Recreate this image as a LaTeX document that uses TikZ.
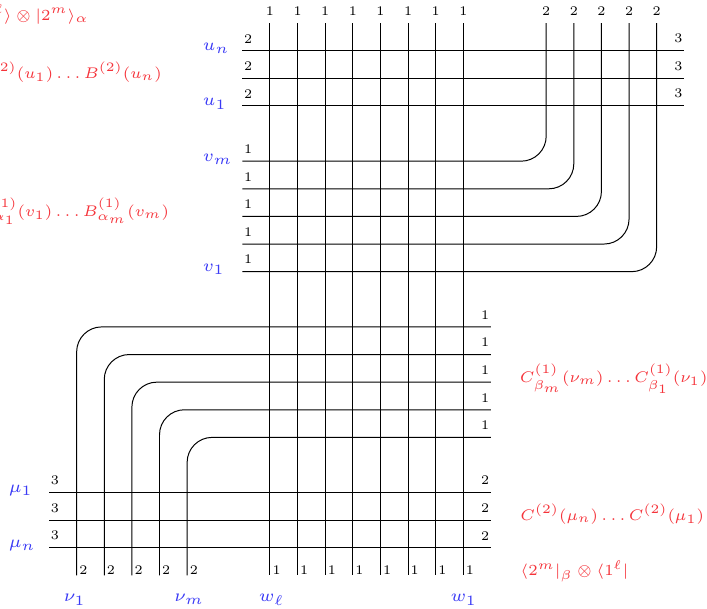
\documentclass[tikz,border=0pt]{standalone}
\usepackage{tikz}
\usepackage{xcolor}
\definecolor{opred}{HTML}{F5333A}
\definecolor{specblue}{HTML}{3A3AF5}

\begin{document}
\begin{tikzpicture}[x=0.4417cm,y=0.4417cm,
  wire/.style={line width=0.45pt,rounded corners=0.4cm},
  num/.style={font=\fontsize{6}{7}\selectfont,inner xsep=0.6pt,inner ysep=3.3pt},
  tail/.style={font=\fontsize{6}{7}\selectfont,inner xsep=1pt,inner ysep=0.3pt,anchor=south west},
  small math/.style={font=\fontsize{6}{7}\selectfont,inner sep=0pt,transform shape},
  spec/.style={small math,scale=1.3,text=specblue,anchor=base west},
  op/.style={small math,scale=1.17,text=opred}]
\useasboundingbox (-9.775,1.836) rectangle (15.822,-20.213);
\clip (-9.775,1.836) rectangle (15.822,-20.213);

% vertical lines w_1 ... w_l
\foreach \k in {0,...,7}{
  \coordinate (wt\k) at (\k,1);
  \coordinate (wb\k) at (\k,-19);
  \draw[wire] (wt\k) -- (wb\k);
  \node[num,above] (wtop\k) at (wt\k) {1};
  \node[tail] (wbot\k) at (wb\k) {1};}

% horizontal lines u_n ... u_1
\foreach \r in {0,1,2}{
  \coordinate (ul\r) at (-1,-\r);
  \coordinate (ur\r) at (15,-\r);
  \draw[wire] (ul\r) -- (ur\r);
  \node[num,anchor=south west] (uin\r) at (ul\r) {2};
  \node[num,anchor=south east] (uout\r) at (ur\r) {3};}

% v lines bending up into the top 2-lines
\foreach \j in {0,...,4}{
  \pgfmathtruncatemacro\r{4+\j}
  \pgfmathtruncatemacro\c{10+\j}
  \coordinate (vl\j) at (-1,-\r);
  \coordinate (vc\j) at (\c,-\r);
  \coordinate (vt\j) at (\c,1);
  \draw[wire] (vl\j) -- (vc\j) -- (vt\j);
  \node[num,anchor=south west] (vin\j) at (vl\j) {1};
  \node[num,above] (vtop\j) at (vt\j) {2};}

% beta lines bending down into the bottom 2-lines
\foreach \j in {0,...,4}{
  \pgfmathtruncatemacro\r{10+\j}
  \pgfmathtruncatemacro\c{-7+\j}
  \coordinate (br\j) at (8,-\r);
  \coordinate (bc\j) at (\c,-\r);
  \coordinate (bb\j) at (\c,-19);
  \draw[wire] (br\j) -- (bc\j) -- (bb\j);
  \node[num,anchor=south east] (bout\j) at (br\j) {1};
  \node[tail] (bbot\j) at (bb\j) {2};}

% horizontal lines mu_1 ... mu_n
\foreach \r in {16,17,18}{
  \coordinate (ml\r) at (-8,-\r);
  \coordinate (mr\r) at (8,-\r);
  \draw[wire] (ml\r) -- (mr\r);
  \node[num,anchor=south west] (min\r) at (ml\r) {3};
  \node[num,anchor=south east] (mout\r) at (mr\r) {2};}

% spectral parameters
\node[spec] (un) at (-2.45,0) {$u_n$};
\node[spec] (u1) at (-2.45,-2) {$u_1$};
\node[spec] (vm) at (-2.45,-4) {$v_m$};
\node[spec] (v1) at (-2.45,-8) {$v_1$};
\node[spec] (mu1) at (-9.475,-16) {$\mu_1$};
\node[spec] (mun) at (-9.475,-18) {$\mu_n$};
\node[spec] (nu1) at (-7.48,-19.95) {$\nu_1$};
\node[spec] (num) at (-3.48,-19.95) {$\nu_m$};
\node[spec] (wl) at (-0.42,-19.95) {$w_\ell$};
\node[spec] (w1) at (6.52,-19.95) {$w_1$};

% operators and states
\node[op,anchor=base east] (psiin) at (-6.55,1.11) {$|1^\ell\rangle\otimes|2^m\rangle_\alpha$};
\node[op,anchor=base east] (btwo) at (-3.9,-1) {$B^{(2)}(u_1)\ldots B^{(2)}(u_n)$};
\node[op,anchor=base east] (bone) at (-3.64,-6) {$B^{(1)}_{\alpha_1}(v_1)\ldots B^{(1)}_{\alpha_m}(v_m)$};
\node[op,anchor=base west] (cone) at (9.03,-12) {$C^{(1)}_{\beta_m}(\nu_m)\ldots C^{(1)}_{\beta_1}(\nu_1)$};
\node[op,anchor=base west] (ctwo) at (9.05,-17) {$C^{(2)}(\mu_n)\ldots C^{(2)}(\mu_1)$};
\node[op,anchor=base west] (psiout) at (9.05,-19) {$\langle 2^m|_\beta\otimes\langle 1^\ell|$};
\end{tikzpicture}
\end{document}
